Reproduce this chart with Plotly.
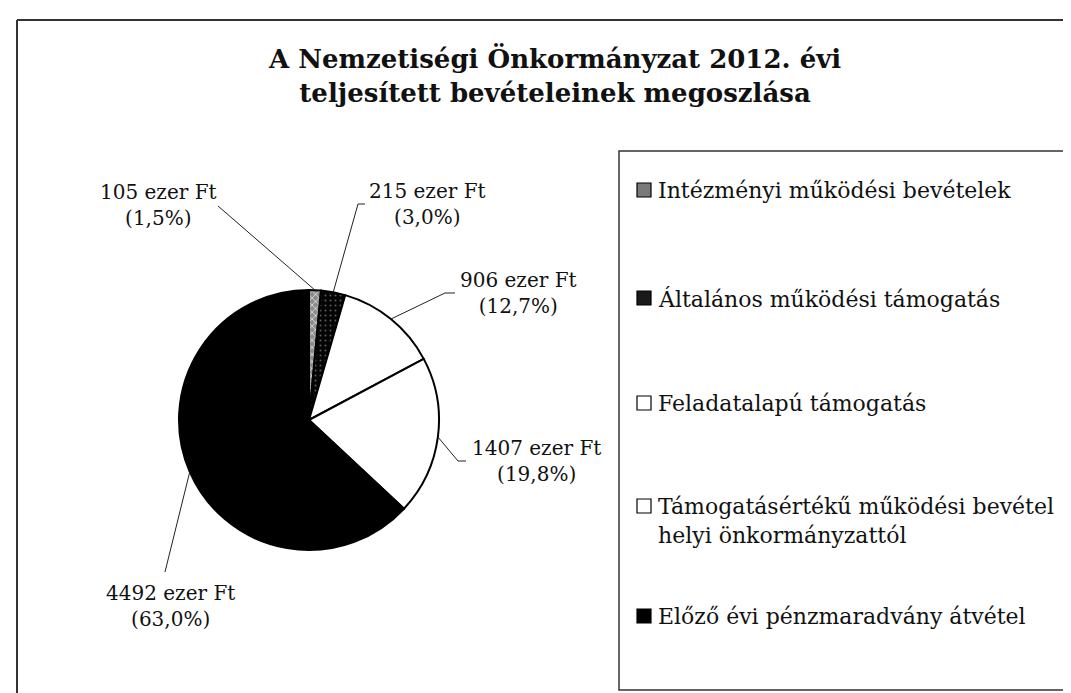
import math
import plotly.graph_objects as go

# ---------------- data ----------------
CATEGORIES = [
    "Intézményi működési bevételek",
    "Általános működési támogatás",
    "Feladatalapú támogatás",
    "Támogatásértékű működési bevétel<br>helyi önkormányzattól",
    "Előző évi pénzmaradvány átvétel",
]
VALUES = [105, 215, 906, 1407, 4492]          # ezer Ft
PERCENTS = [1.5, 3.0, 12.7, 19.8, 63.0]       # as printed on the chart
UNIT = "ezer Ft"
TITLE = "A Nemzetiségi Önkormányzat 2012. évi<br>teljesített bevételeinek megoszlása"

# ---------------- styles / layout ----------------
W, H = 1071, 693
CX, CY, R = 301, 412, 130          # pie centre / radius in px
FONT = "DejaVu Serif"

SLICE_COLORS = ["#9a9a9a", "#080808", "#ffffff", "#ffffff", "#000000"]
PATTERN_SHAPES = ["x", ".", "", "", ""]
PATTERN_BG = ["#8c8c8c", "#050505", "#ffffff", "#ffffff", "#000000"]
PATTERN_FG = ["#dddddd", "#5a5a5a", "#000000", "#000000", "#000000"]
PATTERN_SOLIDITY = [0.3, 0.12, 0.3, 0.3, 0.3]
SWATCH_COLORS = ["#7a7a7a", "#1a1a1a", "#ffffff", "#ffffff", "#000000"]

# label placement (px): text centre, leader attach point, optional elbow
LABEL_CENTER = [(150, 197), (419, 196), (510, 285), (528, 453), (162, 598)]
LABEL_ATTACH = [(210, 198), (357, 196), (447, 285), (458, 453), (157, 564)]
LABEL_ELBOW = [None, (350, 196), (437, 285), (450, 453), None]

# legend placement (px)
LEG_BOX = (611, 143, 1059, 682)
LEG_Y = [182, 290, 395, 498, 608]
LEG_SWATCH_X = 636
LEG_TEXT_X = 648
LEG_LINE_H = 28


def px(x):
    return x / W


def py(y):
    return 1 - y / H


fig = go.Figure()

fig.add_trace(go.Pie(
    values=VALUES,
    labels=[c.replace("<br>", " ") for c in CATEGORIES],
    sort=False,
    direction="clockwise",
    rotation=0,
    textinfo="none",
    showlegend=False,
    domain=dict(x=[px(CX - R), px(CX + R)], y=[py(CY + R), py(CY - R)]),
    marker=dict(
        colors=SLICE_COLORS,
        line=dict(color="#000000", width=2),
        pattern=dict(shape=PATTERN_SHAPES, bgcolor=PATTERN_BG, fgcolor=PATTERN_FG,
                     size=5, solidity=PATTERN_SOLIDITY),
    ),
))

shapes = []
annotations = []

# outer frame (top and left edges visible)
shapes.append(dict(type="line", xref="paper", yref="paper", x0=px(9), y0=py(12), x1=1, y1=py(12),
                   line=dict(color="#333333", width=2)))
shapes.append(dict(type="line", xref="paper", yref="paper", x0=px(9), y0=py(12), x1=px(9), y1=0,
                   line=dict(color="#333333", width=2)))

# title
annotations.append(dict(
    text="<b>" + TITLE + "</b>", xref="paper", yref="paper", x=px(546), y=py(67),
    xanchor="center", yanchor="middle", showarrow=False, align="center",
    font=dict(family=FONT, size=26, color="#111111"),
))

# data labels with leader lines (tips computed from the slice angles)
total = sum(VALUES)
cum = 0
for i, v in enumerate(VALUES):
    mid = (cum + v / 2) / total * 2 * math.pi
    cum += v
    tx = CX + R * math.sin(mid)
    ty = CY - R * math.cos(mid)
    pts = [(tx, ty)]
    if LABEL_ELBOW[i] is not None:
        pts.append(LABEL_ELBOW[i])
    pts.append(LABEL_ATTACH[i])
    path = "M " + " L ".join(f"{px(x):.5f},{py(y):.5f}" for x, y in pts)
    shapes.append(dict(type="path", xref="paper", yref="paper", path=path,
                       line=dict(color="#222222", width=1)))
    pct = f"{PERCENTS[i]:.1f}".replace(".", ",")
    lx, ly = LABEL_CENTER[i]
    annotations.append(dict(
        text=f"{v} {UNIT}<br>({pct}%)", xref="paper", yref="paper",
        x=px(lx), y=py(ly), xanchor="center", yanchor="middle", showarrow=False,
        align="center", font=dict(family=FONT, size=20, color="#111111"),
    ))

# legend box
x0, y0, x1, y1 = LEG_BOX
shapes.append(dict(type="rect", xref="paper", yref="paper", x0=px(x0), y0=py(y0), x1=px(x1), y1=py(y1),
                   line=dict(color="#333333", width=1.5), fillcolor="rgba(0,0,0,0)"))
for i, cat in enumerate(CATEGORIES):
    yc = LEG_Y[i]
    s = 7
    shapes.append(dict(type="rect", xref="paper", yref="paper",
                       x0=px(LEG_SWATCH_X - s), x1=px(LEG_SWATCH_X + s),
                       y0=py(yc + s), y1=py(yc - s),
                       line=dict(color="#000000", width=1.2), fillcolor=SWATCH_COLORS[i]))
    annotations.append(dict(
        text=cat, xref="paper", yref="paper", x=px(LEG_TEXT_X), y=py(yc - LEG_LINE_H / 2),
        xanchor="left", yanchor="top", showarrow=False, align="left",
        font=dict(family=FONT, size=22, color="#111111"),
    ))

fig.update_layout(
    width=W, height=H, autosize=False,
    margin=dict(l=0, r=0, t=0, b=0),
    paper_bgcolor="#ffffff", plot_bgcolor="#ffffff",
    shapes=shapes, annotations=annotations,
)

fig.write_html("out.html")
